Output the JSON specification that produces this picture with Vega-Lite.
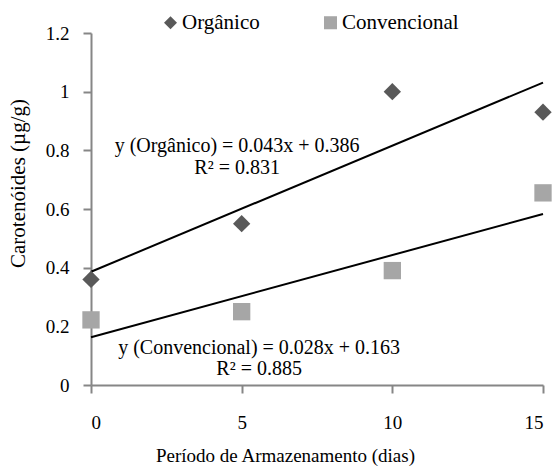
{
  "$schema": "https://vega.github.io/schema/vega-lite/v6.json",
  "width": 452,
  "height": 352,
  "autosize": {"type": "none"},
  "padding": {"left": 91, "top": 33, "right": 12, "bottom": 83},
  "background": "white",
  "config": {
    "view": {"stroke": null},
    "font": "Liberation Serif",
    "axis": {
      "grid": false,
      "domainColor": "#868686",
      "domainWidth": 2,
      "tickColor": "#868686",
      "tickWidth": 2,
      "tickSize": 8,
      "labelFont": "Liberation Serif",
      "labelFontSize": 19,
      "labelColor": "#000000",
      "titleFont": "Liberation Serif",
      "titleFontSize": 19,
      "titleFontWeight": "normal",
      "titleColor": "#000000"
    },
    "legend": {
      "labelFont": "Liberation Serif",
      "labelFontSize": 21,
      "labelColor": "#000000"
    }
  },
  "datasets": {
    "points": [
      {"dias": 0, "valor": 0.36, "serie": "Orgânico"},
      {"dias": 5, "valor": 0.55, "serie": "Orgânico"},
      {"dias": 10, "valor": 1.0, "serie": "Orgânico"},
      {"dias": 15, "valor": 0.93, "serie": "Orgânico"},
      {"dias": 0, "valor": 0.222, "serie": "Convencional"},
      {"dias": 5, "valor": 0.25, "serie": "Convencional"},
      {"dias": 10, "valor": 0.39, "serie": "Convencional"},
      {"dias": 15, "valor": 0.655, "serie": "Convencional"}
    ],
    "trend": [
      {"dias": 0, "valor": 0.386, "serie": "Orgânico"},
      {"dias": 15, "valor": 1.031, "serie": "Orgânico"},
      {"dias": 0, "valor": 0.163, "serie": "Convencional"},
      {"dias": 15, "valor": 0.583, "serie": "Convencional"}
    ],
    "equations": [
      {"dias": 4.85, "valor": 0.815, "texto": "y (Orgânico) = 0.043x + 0.386"},
      {"dias": 4.85, "valor": 0.74, "texto": "R² = 0.831"},
      {"dias": 5.58, "valor": 0.127, "texto": "y (Convencional)  = 0.028x + 0.163"},
      {"dias": 5.58, "valor": 0.053, "texto": "R² = 0.885"}
    ]
  },
  "layer": [
    {
      "data": {"name": "trend"},
      "mark": {"type": "line", "color": "#000000", "strokeWidth": 2},
      "encoding": {
        "x": {
          "field": "dias",
          "type": "quantitative",
          "scale": {"domain": [0, 15], "nice": false},
          "axis": {
            "values": [0, 5, 10, 15],
            "title": "Período de Armazenamento (dias)",
            "labelPadding": 20,
            "titleX": 194,
            "titleY": 70,
            "titleBaseline": "middle"
          }
        },
        "y": {
          "field": "valor",
          "type": "quantitative",
          "scale": {"domain": [0, 1.2], "nice": false, "zero": true},
          "axis": {
            "values": [0, 0.2, 0.4, 0.6, 0.8, 1, 1.2],
            "format": "~g",
            "title": "Carotenóides (µg/g)",
            "titleFontSize": 21,
            "labelPadding": 14,
            "titleAngle": -90,
            "titleX": -73,
            "titleY": 150,
            "titleAlign": "center",
            "titleBaseline": "middle"
          }
        },
        "detail": {"field": "serie"}
      }
    },
    {
      "data": {"name": "points"},
      "mark": {"type": "point", "filled": true, "opacity": 1, "size": 300},
      "encoding": {
        "x": {"field": "dias", "type": "quantitative"},
        "y": {"field": "valor", "type": "quantitative"},
        "shape": {
          "field": "serie",
          "type": "nominal",
          "scale": {"domain": ["Orgânico", "Convencional"], "range": ["diamond", "square"]},
          "legend": {
            "title": null,
            "orient": "none",
            "direction": "horizontal",
            "legendX": 69,
            "legendY": -21,
            "padding": 0,
            "symbolSize": 170,
            "symbolOpacity": 1,
            "labelOffset": 1,
            "columnPadding": 60
          }
        },
        "color": {
          "field": "serie",
          "type": "nominal",
          "scale": {"domain": ["Orgânico", "Convencional"], "range": ["#595959", "#a6a6a6"]},
          "legend": {
            "title": null,
            "orient": "none",
            "direction": "horizontal",
            "legendX": 69,
            "legendY": -21,
            "padding": 0,
            "symbolSize": 170,
            "symbolOpacity": 1,
            "labelOffset": 1,
            "columnPadding": 60
          }
        }
      }
    },
    {
      "data": {"name": "equations"},
      "mark": {"type": "text", "fontSize": 20, "align": "center", "baseline": "middle", "color": "#000000", "font": "Liberation Serif"},
      "encoding": {
        "x": {"field": "dias", "type": "quantitative"},
        "y": {"field": "valor", "type": "quantitative"},
        "text": {"field": "texto"}
      }
    }
  ]
}
